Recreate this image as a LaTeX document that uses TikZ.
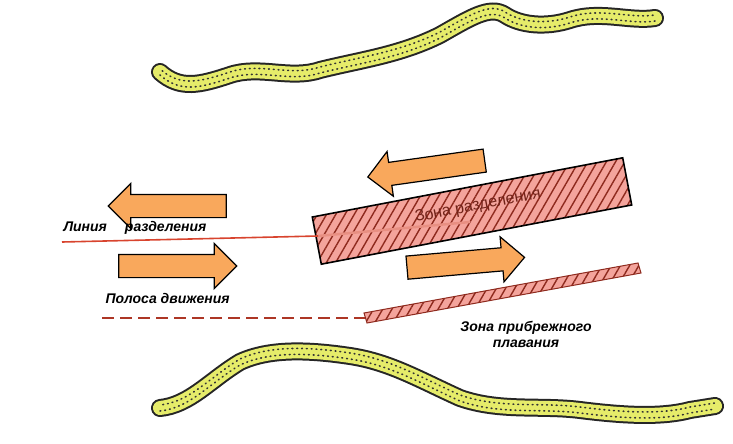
\documentclass[tikz,border=0pt]{standalone}
\usepackage{fontspec}
\setmainfont{Liberation Sans}
\usetikzlibrary{shapes.arrows,patterns.meta}
\definecolor{sand}{HTML}{E6EC6A}
\definecolor{arr}{HTML}{F9A85C}
\definecolor{zpink}{HTML}{F4A49C}
\definecolor{zred}{HTML}{D8442E}
\definecolor{hatch}{HTML}{8E2A1E}
\begin{document}
\begin{tikzpicture}[x=1pt,y=1pt,
 coast/.style={line width=18pt,draw=black!85,line cap=round},
 coastin/.style={line width=14pt,draw=sand,line cap=round},
 coastdot/.style={line width=1.6pt,draw=black!80,dash pattern=on 0.8pt off 4pt,line cap=round},
 mv/.style={single arrow,draw=black,line width=1.2pt,fill=arr,minimum height=118pt,minimum width=44pt,single arrow head extend=11pt,inner xsep=0pt,inner ysep=11pt},
 hatchp/.style={pattern={Lines[angle=60,distance=8pt,line width=1.4pt]},pattern color=hatch},
 lbl/.style={font=\itshape\bfseries\fontsize{14}{16}\selectfont,text=black}]
\useasboundingbox (0,0) rectangle (733,-444);
\def\topc{(160,-72) .. controls (180,-90) and (200,-85) .. (230,-75) .. controls (260,-65) and (290,-80) .. (320,-70) .. controls (360,-60) and (400,-55) .. (440,-35) .. controls (470,-18) and (490,-5) .. (505,-15) .. controls (520,-25) and (545,-28) .. (570,-20) .. controls (600,-10) and (630,-22) .. (655,-18)}
\def\botc{(160,-408) .. controls (190,-405) and (210,-380) .. (240,-362) .. controls (270,-348) and (310,-350) .. (350,-356) .. controls (390,-362) and (420,-380) .. (460,-398) .. controls (500,-412) and (540,-405) .. (580,-410) .. controls (620,-415) and (660,-418) .. (690,-410) -- (715,-406)}
\draw[coast] \topc; \draw[coastin] \topc; \draw[coastdot,yshift=-3pt] \topc; \draw[coastdot,yshift=3pt,dash phase=2pt] \topc;
\draw[coast] \botc; \draw[coastin] \botc; \draw[coastdot,yshift=-3pt] \botc; \draw[coastdot,yshift=3pt,dash phase=2pt] \botc;
% coastal zone
\coordinate (cz1) at (365,-318);
\coordinate (cz2) at (640,-268);
\fill[zpink] (364,-313) -- (638,-263) -- (641,-273) -- (367,-323) -- cycle;
\fill[hatchp] (364,-313) -- (638,-263) -- (641,-273) -- (367,-323) -- cycle;
\draw[hatch,line width=1pt] (364,-313) -- (638,-263) -- (641,-273) -- (367,-323) -- cycle;
\draw[zred!80!black,line width=1.8pt,dash pattern=on 12pt off 6pt] (102,-318) -- (cz1);
% separation zone
\coordinate (lstart) at (62,-242);
\node[minimum width=316pt,minimum height=48pt,rotate=10.8] (zone) at (472,-211) {};
\fill[zpink,rotate around={10.8:(472,-211)}] (314,-187) rectangle (630,-235);
\fill[hatchp,rotate around={10.8:(472,-211)}] (314,-187) rectangle (630,-235);
\draw[zred!60,line width=2.5pt] (318,-236) -- (470,-222);
\draw[black,line width=1.6pt,rotate around={10.8:(472,-211)}] (314,-187) rectangle (630,-235);
\node[rotate=10.8,font=\fontsize{16}{18}\selectfont,text=hatch!80!black] (zt) at (478,-206) {Зона разделения};
\draw[zred,line width=1.6pt] (lstart) -- (318,-236);
% arrows
\node[mv,rotate=188] (a1) at (432,-168) {};
\node[mv,rotate=180] (a2) at (173,-206) {};
\node[mv] (a3) at (172,-266) {};
\node[mv,rotate=5] (a4) at (460,-263) {};
% labels
\node[lbl,anchor=west] (l1) at (60,-228) {Линия\hspace{18pt}разделения};
\node[lbl,anchor=west] (l2) at (102,-298) {Полоса движения};
\node[lbl,align=center] (l3) at (526,-334) {Зона прибрежного\\плавания};
\end{tikzpicture}
\end{document}
